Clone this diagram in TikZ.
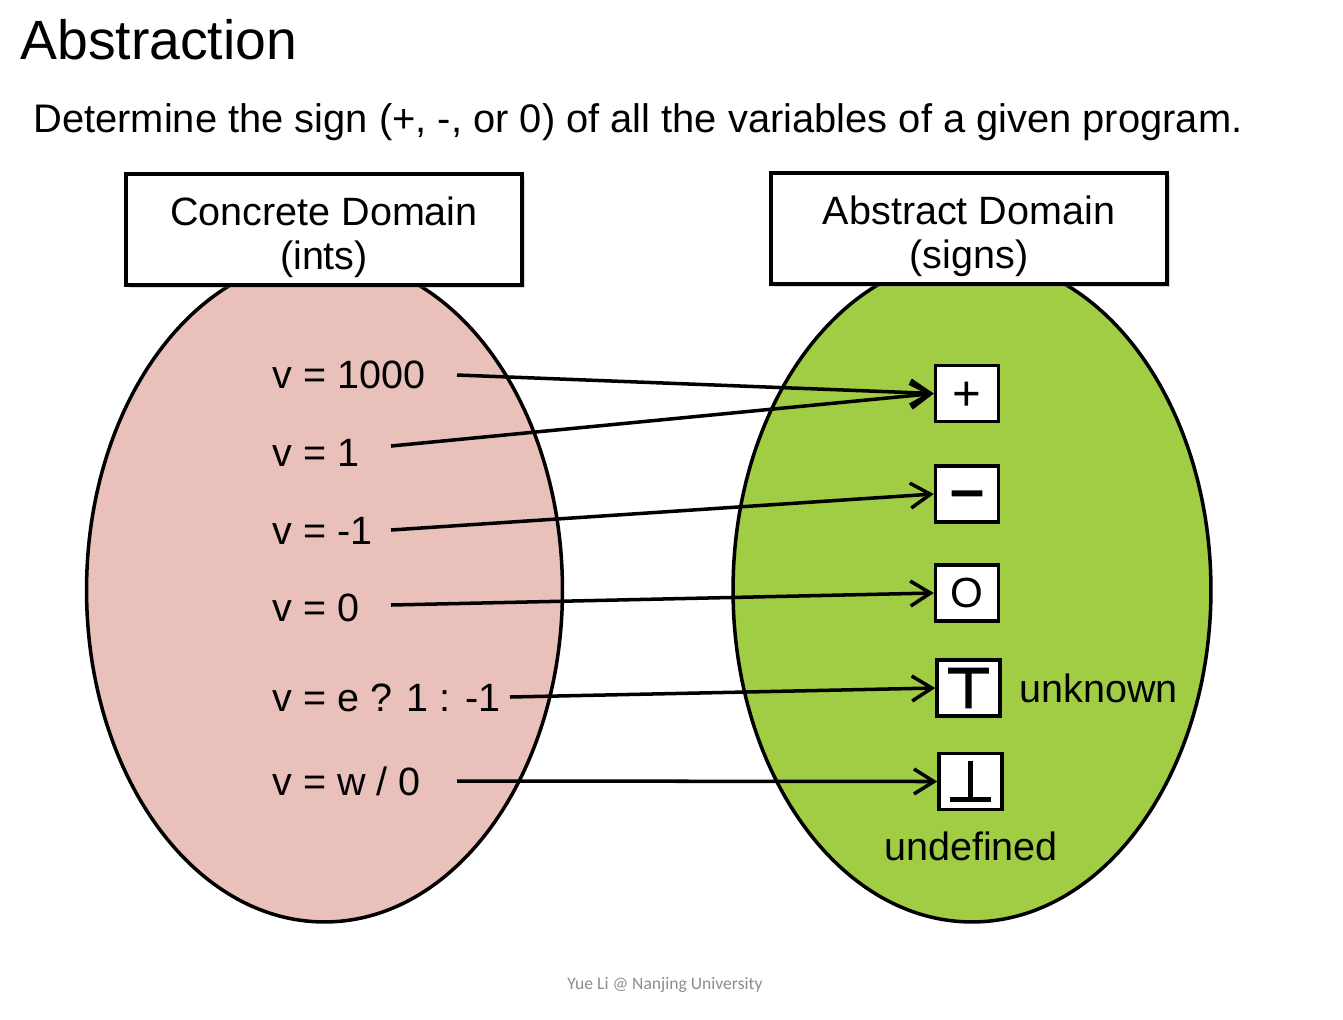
\documentclass[tikz,border=0pt]{standalone}
\usepackage{fontspec}
\setmainfont{Liberation Sans}
\newfontfamily\footfont{Carlito}
\newfontface\symface[FakeBold=2.5]{DejaVu Sans}
\newfontface\symboldface[FakeBold=5]{DejaVu Sans}
\usetikzlibrary{arrows.meta,shapes.geometric,shadows}
\definecolor{concpink}{RGB}{234,193,186}
\definecolor{absgreen}{RGB}{160,205,67}
\definecolor{footgray}{RGB}{140,140,140}
\begin{document}
\begin{tikzpicture}[x=0.02cm,y=-0.02cm,
  domainbox/.style={draw,line width=2.2pt,fill=white,minimum width=7.92cm,minimum height=2.22cm,
    inner sep=0,drop shadow={shadow xshift=1.5pt,shadow yshift=-1.5pt,opacity=0.3}},
  boxlabel/.style={align=center,inner sep=0,font=\fontsize{22.5}{25}\selectfont},
  domainshape/.style={ellipse,draw,line width=2pt,inner sep=0,minimum height=13.28cm},
  valtext/.style={anchor=west,inner sep=0,font=\fontsize{22.5}{26}\selectfont},
  signbox/.style={draw,line width=2pt,fill=white,minimum width=1.26cm,minimum height=1.12cm,
    inner sep=0,font=\fontsize{24}{28}\selectfont},
  mapto/.style={line width=2pt,-{Straight Barb[length=0.4cm,width=0.5cm,line width=2pt]}}
]
\useasboundingbox (0,0) rectangle (1343,1019);

% title and subtitle
\node[anchor=west,inner sep=0,font=\fontsize{31.5}{36}\selectfont] (title) at (20,40) {Abstraction};
\node[anchor=west,inner sep=0,font=\fontsize{22.7}{26}\selectfont] (sub) at (33,122)
  {Determine the sign (+, -, or 0) of all the variables of a given program.};

% domains
\node[domainshape,fill=concpink,minimum width=9.52cm] (conc) at (324.5,590) {};
\node[domainshape,fill=absgreen,minimum width=9.56cm] (abs) at (972,590) {};

\node[domainbox] (concbox) at (324,229.5) {};
\node[domainbox] (absbox) at (969,228.5) {};
\node[boxlabel] (conclabel) at (324,237) {Concrete Domain\\(ints)};
\node[boxlabel] (abslabel) at (969,236) {Abstract Domain\\(signs)};

% concrete values
\node[valtext] (v1000) at (272,375) {v = 1000};
\node[valtext] (v1) at (272,453) {v = 1};
\node[valtext] (vm1) at (272,531) {v = -1};
\node[valtext] (v0) at (272,608) {v = 0};
\node[valtext] (ve) at (272,698) {v = e ? 1 : -1};
\node[valtext] (vw) at (272,781) {v = w / 0};

% abstract values
\node[signbox] (plus) at (967,393.5) {\raisebox{-9.9pt}[0pt][0pt]{\fontsize{28}{30}\selectfont +}};
\node[signbox] (minus) at (967,494) {\raisebox{-7.8pt}[0pt][0pt]{\symboldface\fontsize{26}{28}\selectfont −}};
\node[signbox] (zero) at (967,593) {O};
\node[signbox] (top) at (968.5,688) {\symboldface\fontsize{31}{32}\selectfont ⊤};
\node[signbox] (bot) at (970.5,781.5) {\symface\fontsize{32}{34}\selectfont ⊥};

\node[valtext] (unk) at (1019,688) {unknown};
\node[inner sep=0,font=\fontsize{22.5}{26}\selectfont] (undef) at (971,846) {undefined};

% arrow starts
\coordinate (s1000) at (457,375);
\coordinate (s1) at (391,446);
\coordinate (sm1) at (391,530);
\coordinate (s0) at (391,605);
\coordinate (se) at (510,697);
\coordinate (sw) at (457,781);

\draw[mapto] (s1000) -- (plus.west);
\draw[mapto] (s1) -- (plus.west);
\draw[mapto] (sm1) -- (minus.west);
\draw[mapto] (s0) -- (zero.west);
\draw[mapto] (se) -- (top.west);
\draw[mapto] (sw) -- (bot.west);

% footer
\node[inner sep=0,font=\footfont\fontsize{10}{12}\selectfont,text=footgray] (foot) at (665,985)
  {Yue Li @ Nanjing University};
\end{tikzpicture}
\end{document}
